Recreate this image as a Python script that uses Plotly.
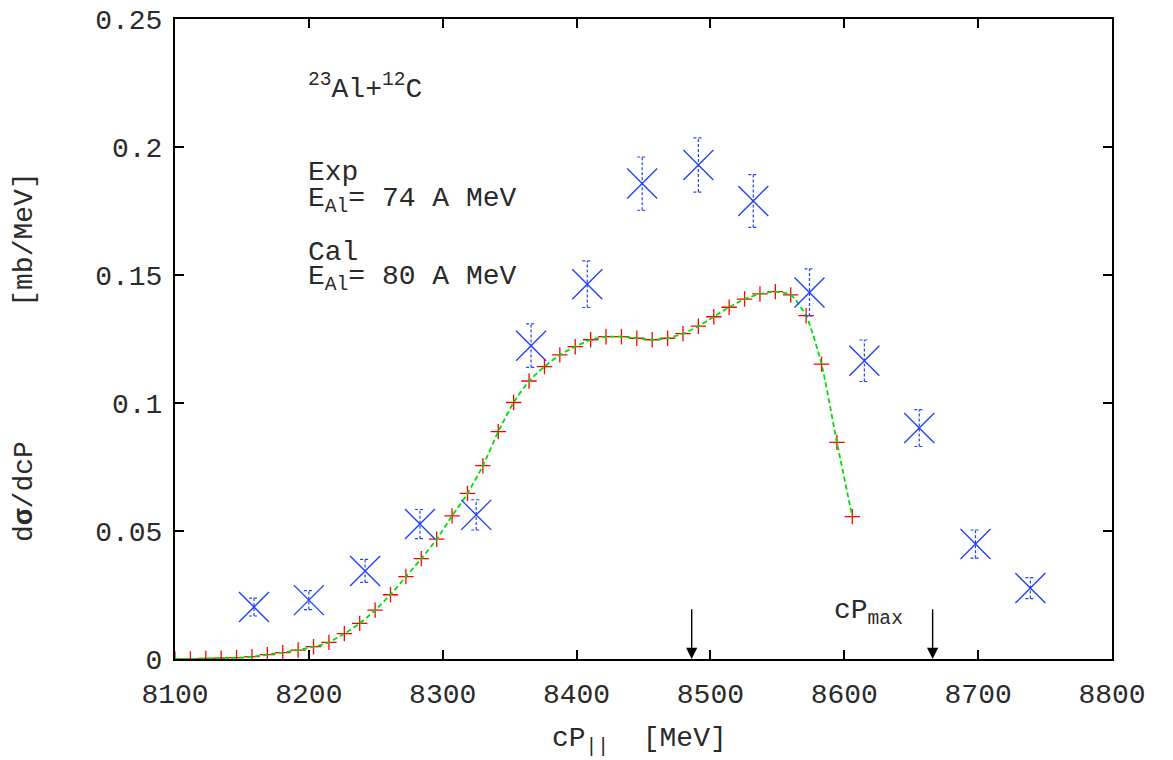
import plotly.graph_objects as go

# ---- data ----
x_cal = [8100, 8111.5, 8123, 8134.5, 8146, 8157.5, 8169, 8180.5, 8192, 8203.5,
         8215, 8226.5, 8238, 8249.5, 8261, 8272.5, 8284, 8295.5, 8307, 8318.5,
         8330, 8341.5, 8353, 8364.5, 8376, 8387.5, 8399, 8410.5, 8422, 8433.5,
         8445, 8456.5, 8468, 8479.5, 8491, 8502.5, 8514, 8525.5, 8537, 8548.5,
         8560, 8571.5, 8583, 8594.5, 8606]
y_cal = [0.0, 0.0, 0.0002, 0.0003, 0.0005, 0.0009, 0.0017, 0.0025, 0.0035, 0.0048,
         0.0065, 0.0099, 0.0139, 0.0191, 0.0251, 0.0322, 0.0392, 0.0468, 0.0559, 0.0647,
         0.0755, 0.0888, 0.1002, 0.1086, 0.1142, 0.1188, 0.1220, 0.1247, 0.1259, 0.1259,
         0.1253, 0.1247, 0.1253, 0.1271, 0.1300, 0.1337, 0.1374, 0.1406, 0.1426, 0.1435,
         0.1422, 0.1341, 0.1152, 0.0846, 0.0556]

x_exp = [8159, 8200, 8242, 8283, 8325, 8366, 8408, 8449, 8491, 8532,
         8574, 8615, 8656, 8698, 8739]
y_exp = [0.0203, 0.0230, 0.0344, 0.0527, 0.0563, 0.1224, 0.1464, 0.1857, 0.1930, 0.1789,
         0.1432, 0.1165, 0.0902, 0.0449, 0.0277]
err_exp = [0.0035, 0.0037, 0.0045, 0.0057, 0.0059, 0.0085, 0.0091, 0.0104, 0.0106, 0.0103,
           0.0092, 0.0081, 0.0072, 0.0055, 0.0041]

arrow_x = [8486, 8666]
arrow_top = 0.020

x_ticks = [8100, 8200, 8300, 8400, 8500, 8600, 8700, 8800]
y_ticks = [0, 0.05, 0.1, 0.15, 0.2, 0.25]

FONT = "Liberation Mono, Courier New, monospace"
TXT = "#2a2a2a"
BLUE = "#2040ff"
FS = 28

# ---- error bars as dashed segments built from data ----
cap = 3.7
ex, ey = [], []
for xv, yv, ev in zip(x_exp, y_exp, err_exp):
    ex += [xv, xv, None, xv - cap, xv + cap, None, xv - cap, xv + cap, None]
    ey += [yv - ev, yv + ev, None, yv + ev, yv + ev, None, yv - ev, yv - ev, None]

fig = go.Figure()
fig.add_trace(go.Scatter(x=x_cal, y=y_cal, mode="markers",
                         marker=dict(symbol="cross-thin", size=11,
                                     line=dict(color="#ff0000", width=1.3)),
                         showlegend=False, hoverinfo="skip"))
fig.add_trace(go.Scatter(x=x_cal, y=y_cal, mode="lines",
                         line=dict(color="#00dd00", width=1.8, dash="5px,3px", shape="spline",
                                   smoothing=0.6),
                         showlegend=False, hoverinfo="skip"))
fig.add_trace(go.Scatter(x=ex, y=ey, mode="lines",
                         line=dict(color=BLUE, width=1.2, dash="3px,2px"),
                         showlegend=False, hoverinfo="skip"))
fig.add_trace(go.Scatter(x=x_exp, y=y_exp, mode="markers",
                         marker=dict(symbol="x-thin", size=30,
                                     line=dict(color=BLUE, width=1.4)),
                         showlegend=False))

annots = []
for xa in arrow_x:
    annots.append(dict(x=xa, y=0, ax=xa, ay=arrow_top, xref="x", yref="y",
                       axref="x", ayref="y", showarrow=True, arrowhead=2,
                       arrowsize=1.6, arrowwidth=1.4, arrowcolor="black", text=""))

def txt(x, y, s):
    annots.append(dict(x=x, y=y, xref="x", yref="y", text=s, showarrow=False,
                       xanchor="left", yanchor="middle",
                       font=dict(family=FONT, size=FS, color=TXT)))

txt(8198, 0.2233, "<sup>23</sup>Al+<sup>12</sup>C")
txt(8198, 0.1902, "Exp")
txt(8198, 0.1790, "E<sub>Al</sub>= 74 A MeV")
txt(8198, 0.1587, "Cal")
txt(8198, 0.1488, "E<sub>Al</sub>= 80 A MeV")
txt(8591, 0.0180, "cP<sub>max</sub>")

# axis titles as annotations for precise placement
annots.append(dict(x=0.496, y=-0.1266, xref="paper", yref="paper",
                   text="cP<sub>||</sub>\u00a0\u00a0[MeV]", showarrow=False,
                   xanchor="center", yanchor="middle",
                   font=dict(family=FONT, size=FS, color=TXT)))
annots.append(dict(x=-0.160, y=0.472, xref="paper", yref="paper", textangle=-90,
                   text="d<b>σ</b>/dcP" + "\u00a0" * 8 + "[mb/MeV]", showarrow=False,
                   xanchor="center", yanchor="middle",
                   font=dict(family=FONT, size=FS, color=TXT)))

fig.update_layout(
    width=1173, height=760,
    margin=dict(l=175, r=61, t=19, b=101),
    plot_bgcolor="white", paper_bgcolor="white",
    font=dict(family=FONT, size=FS, color=TXT),
    annotations=annots,
    showlegend=False,
)
fig.update_xaxes(range=[8100, 8800], tickvals=x_ticks, ticks="inside", ticklen=9,
                 tickwidth=1.5, tickcolor="black", showline=True, linecolor="black",
                 linewidth=2, mirror="ticks", showgrid=False, zeroline=False,
                 ticklabelstandoff=8, automargin=False)
fig.update_yaxes(range=[0, 0.25], tickvals=y_ticks, ticks="inside", ticklen=9,
                 tickwidth=1.5, tickcolor="black", showline=True, linecolor="black",
                 linewidth=2, mirror="ticks", showgrid=False, zeroline=False,
                 ticklabelstandoff=5, automargin=False)

fig.write_html("out.html", config={"displayModeBar": False},
               post_script="document.body.style.margin='0';")
